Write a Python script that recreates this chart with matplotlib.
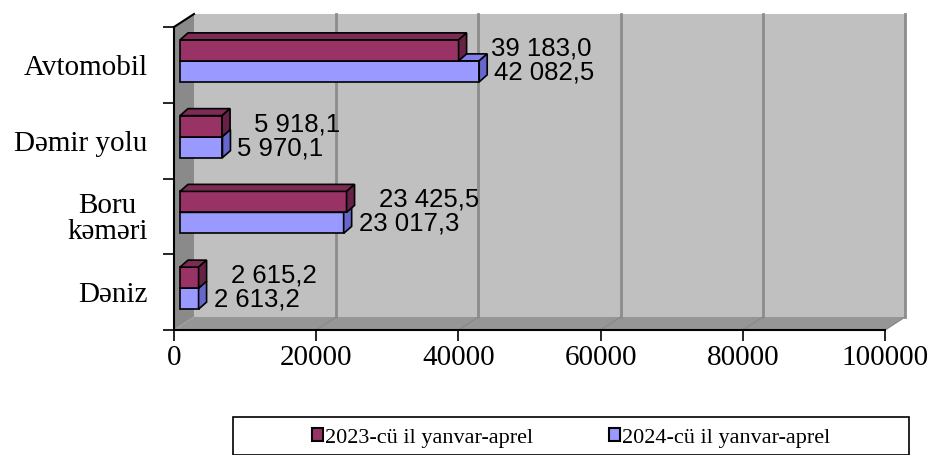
"""
Freight by transport mode, Jan-Apr 2023 vs 2024 (Excel-style 3D bar chart).
"""

import matplotlib
matplotlib.use("Agg")
import matplotlib.pyplot as plt
from matplotlib.patches import Polygon, Patch, Rectangle

plt.rcParams["font.family"] = ["Liberation Serif", "DejaVu Serif"]

# bottom -> top, as drawn
categories = ["Dəniz", "Boru\nkəməri", "Dəmir yolu", "Avtomobil"]
values_2023 = [2615.2, 23425.5, 5918.1, 39183.0]
values_2024 = [2613.2, 23017.3, 5970.1, 42082.5]
labels_2023 = ["2 615,2", "23 425,5", "5 918,1", "39 183,0"]
labels_2024 = ["2 613,2", "23 017,3", "5 970,1", "42 082,5"]
series_names = ["2023-cü il yanvar-aprel", "2024-cü il yanvar-aprel"]
xticks = [0, 20000, 40000, 60000, 80000, 100000]

C23, C23_SIDE, C23_TOP = "#993366", "#662244", "#7d2a55"
C24, C24_SIDE, C24_TOP = "#9999ff", "#6666cc", "#8080e6"

W, H = 930, 455
X0, X1, Y0, Y1 = 174, 885, 330, 27          # plot-area front, in pixels
XMAX, YMAX = 100000, len(categories)
PX = XMAX / (X1 - X0)                        # data units per pixel
PY = YMAX / (Y0 - Y1)
DEPTH = (20, 13)                             # wall depth, pixels
BAR_DEPTH = (8, 7)

fig = plt.figure(figsize=(W / 100, H / 100), dpi=100)
ax = fig.add_axes([X0 / W, (H - Y0) / H, (X1 - X0) / W, (Y0 - Y1) / H])
ax.set_xlim(0, XMAX)
ax.set_ylim(0, YMAX)
ax.patch.set_visible(False)

dx, dy = DEPTH[0] * PX, DEPTH[1] * PY

# walls and floor
walls = [
    ([(dx, dy), (XMAX + dx, dy), (XMAX + dx, YMAX + dy), (dx, YMAX + dy)], "#c0c0c0"),
    ([(0, 0), (0, YMAX), (dx, YMAX + dy), (dx, dy)], "#8a8a8a"),
    ([(0, 0), (XMAX, 0), (XMAX + dx, dy), (dx, dy)], "#969696"),
]
for pts, col in walls:
    ax.add_patch(Polygon(pts, closed=True, facecolor=col, edgecolor="none",
                         clip_on=False, zorder=0))
for v in xticks[1:]:
    ax.plot([v + dx, v + dx], [dy, YMAX + dy], color="#8c8c8c", lw=2,
            clip_on=False, zorder=1)
    ax.plot([v, v + dx], [0, dy], color="#8a8a8a", lw=1, clip_on=False, zorder=1)
ax.plot([0, dx], [0, dy], color="#a0a0a0", lw=1, clip_on=False, zorder=1)
ax.plot([0, dx], [YMAX, YMAX + dy], color="black", lw=1.5, clip_on=False, zorder=1)

# bars
h = 21 * PY
lift = 4 * PY
left = 6 * PX
bdx, bdy = BAR_DEPTH[0] * PX, BAR_DEPTH[1] * PY
centers = [i + 0.5 for i in range(len(categories))]


def draw_bars(vals, bottoms, face, side, top):
    bars = ax.barh(bottoms, vals, left=left, height=h, align="edge",
                   color=face, edgecolor="black", linewidth=1.2, zorder=3)
    for b in bars:
        x0, y0 = b.get_x(), b.get_y()
        x1, y1 = x0 + b.get_width(), y0 + b.get_height()
        ax.add_patch(Polygon([(x0, y1), (x1, y1), (x1 + bdx, y1 + bdy), (x0 + bdx, y1 + bdy)],
                             facecolor=top, edgecolor="black", lw=1.2, zorder=3))
        ax.add_patch(Polygon([(x1, y0), (x1 + bdx, y0 + bdy), (x1 + bdx, y1 + bdy), (x1, y1)],
                             facecolor=side, edgecolor="black", lw=1.2, zorder=3))
    return bars


bottoms_24 = [c + lift - h for c in centers]
bottoms_23 = [c + lift for c in centers]
draw_bars(values_2024, bottoms_24, C24, C24_SIDE, C24_TOP)
draw_bars(values_2023, bottoms_23, C23, C23_SIDE, C23_TOP)

for v, b, lab in zip(values_2023, bottoms_23, labels_2023):
    ax.annotate(lab, (left + v, b + h / 2), xytext=(32, 2), textcoords="offset pixels",
                ha="left", va="center", fontsize=18.5, family=["Liberation Sans"], zorder=4)
for v, b, lab in zip(values_2024, bottoms_24, labels_2024):
    ax.annotate(lab, (left + v, b + h / 2), xytext=(15, -1), textcoords="offset pixels",
                ha="left", va="center", fontsize=18.5, family=["Liberation Sans"], zorder=4)

# axes
for s in ["top", "right"]:
    ax.spines[s].set_visible(False)
for s in ["left", "bottom"]:
    ax.spines[s].set_linewidth(1.5)
    ax.spines[s].set_zorder(2)
ax.set_xticks(xticks)
ax.set_xticklabels([str(t) for t in xticks], fontsize=21)
ax.tick_params(axis="x", direction="out", length=8, width=1.2, pad=3)
ax.set_yticks(range(len(categories) + 1))
ax.set_yticklabels([])
ax.tick_params(axis="y", which="major", direction="out", length=8, width=1.2)
ax.set_yticks(centers, categories, minor=True)
ax.tick_params(axis="y", which="minor", length=0, pad=19, labelsize=21)
for lbl in ax.get_yticklabels(minor=True):
    lbl.set_multialignment("center")
    lbl.set_linespacing(1.0)
    lbl.set_y(lbl.get_position()[1])

# legend
fig.patches.append(Rectangle((233 / W, 0), (909 - 233) / W, (H - 417) / H,
                             transform=fig.transFigure, facecolor="white",
                             edgecolor="black", lw=1.2))
handles = [Patch(facecolor=C23, edgecolor="black", lw=1.5),
           Patch(facecolor=C24, edgecolor="black", lw=1.5)]
fig.legend(handles, series_names, loc="center", bbox_to_anchor=(571 / W, (H - 438) / H),
           ncol=2, frameon=False, fontsize=16, handlelength=0.5, handleheight=0.5,
           handletextpad=0.1, columnspacing=3.4, borderpad=0)

fig.savefig("out.png", dpi=100)
